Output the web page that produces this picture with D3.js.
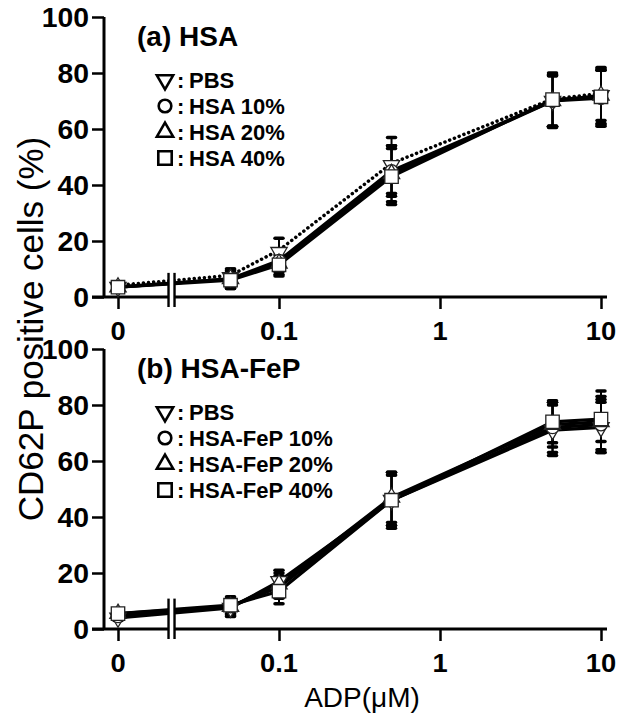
<!DOCTYPE html>
<html><head><meta charset="utf-8">
<script src="https://cdn.jsdelivr.net/npm/d3@7"></script>
<style>body{margin:0;background:#fff}svg{display:block}</style>
</head><body>
<script>
// ---- data ----
const xValues = [0, 0.05, 0.1, 0.5, 5, 10];
const xTickValues = [0, 0.1, 1, 10];
const xTickLabels = ["0", "0.1", "1", "10"];
const yTickValues = [0, 20, 40, 60, 80, 100];

const namesA = ["PBS", "HSA 10%", "HSA 20%", "HSA 40%"];
const pbsA   = [3.5, 7.0, 16.0, 47.0, 70.0, 72.0];
const hsa10A = [3.5, 6.5, 13.0, 45.0, 70.0, 71.0];
const hsa20A = [3.5, 6.5, 12.0, 44.0, 70.0, 72.0];
const hsa40A = [3.5, 6.0, 11.5, 43.0, 70.5, 71.5];
const pbsAErr   = [0.5, 3.0, 5.0, 10.0, 9.0, 10.0];
const hsa10AErr = [0.5, 3.5, 4.0, 9.0, 9.5, 10.0];
const hsa20AErr = [0.5, 3.0, 4.5, 10.0, 9.0, 9.0];
const hsa40AErr = [0.5, 3.0, 3.5, 10.0, 9.5, 10.0];

const namesB = ["PBS", "HSA-FeP 10%", "HSA-FeP 20%", "HSA-FeP 40%"];
const pbsB   = [4.0, 7.5, 17.0, 46.0, 71.0, 72.0];
const fep10B = [4.5, 8.0, 15.0, 46.0, 72.0, 73.0];
const fep20B = [5.5, 8.0, 16.0, 47.0, 73.0, 74.0];
const fep40B = [5.5, 8.5, 13.5, 46.0, 74.0, 75.0];
const pbsBErr   = [1.0, 3.0, 4.0, 9.0, 9.0, 9.0];
const fep10BErr = [1.0, 3.0, 4.0, 9.0, 9.0, 9.0];
const fep20BErr = [1.0, 3.0, 4.0, 9.0, 8.0, 11.0];
const fep40BErr = [1.5, 3.0, 4.5, 10.0, 7.5, 8.0];

const panels = [
  {title: "(a) HSA", names: namesA, values: [pbsA, hsa10A, hsa20A, hsa40A],
   errs: [pbsAErr, hsa10AErr, hsa20AErr, hsa40AErr], dotted: [true, false, false, false], top: 17},
  {title: "(b) HSA-FeP", names: namesB, values: [pbsB, fep10B, fep20B, fep40B],
   errs: [pbsBErr, fep10BErr, fep20BErr, fep40BErr], dotted: [false, false, false, false], top: 349}
];

// ---- layout ----
const W = 620, H = 713;
const font = "'Liberation Sans', Arial, sans-serif";
const svg = d3.select("body").append("svg").attr("width", W).attr("height", H);

const zeroStandIn = 0.01;   // where "0" sits on the log axis
const breakAt = 0.0215;     // axis break position
const x = d3.scaleLog().domain([0.01, 10]).range([118, 601]);
const px = v => x(v === 0 ? zeroStandIn : v);
const axisX = 104, plotH = 280;

const symbols = [
  {type: d3.symbolTriangle, rot: 180, size: 115},
  {type: d3.symbolCircle, rot: 0, size: 125},
  {type: d3.symbolTriangle, rot: 0, size: 115},
  {type: d3.symbolSquare, rot: 0, size: 180}
];

function stretchText(g, tx, ty, str, opts) {
  const t = g.append("text")
    .attr("transform", `translate(${tx},${ty}) scale(${opts.sx || 1},1)`)
    .attr("font-family", font)
    .attr("font-size", opts.size)
    .attr("font-weight", opts.weight || "normal")
    .attr("text-anchor", opts.anchor || "start")
    .attr("fill", "#000")
    .text(str);
  if (opts.stroke) t.attr("stroke", "#000").attr("stroke-width", opts.stroke);
  return t;
}

panels.forEach(p => {
  const y = d3.scaleLinear().domain([0, 100]).range([p.top + plotH, p.top]);
  const g = svg.append("g");
  const y0 = y(0);

  // y axis
  const yAxis = d3.axisLeft(y).tickValues(yTickValues).tickSize(12).tickFormat("");
  const ya = g.append("g").attr("transform", `translate(${axisX},0)`).call(yAxis);
  ya.select(".domain").attr("stroke", "#000").attr("stroke-width", 3).attr("d", `M0,${p.top}V${y0}`);
  ya.selectAll(".tick line").attr("stroke", "#000").attr("stroke-width", 2.5);
  yTickValues.forEach(v => {
    stretchText(g, 89, y(v) + 10, String(v), {size: 27, sx: 1.05, anchor: "end", weight: "bold"});
  });

  // x axis
  const xa = g.append("g").attr("transform", `translate(0,${y0})`)
    .call(d3.axisBottom(x).tickValues(xTickValues.map(v => v === 0 ? zeroStandIn : v)).tickSize(12).tickFormat(""));
  xa.select(".domain").attr("stroke", "#000").attr("stroke-width", 3).attr("d", `M92,0H607`);
  xa.selectAll(".tick line").attr("stroke", "#000").attr("stroke-width", 2.5);
  xTickValues.forEach((v, i) => {
    stretchText(g, px(v), y0 + 43, xTickLabels[i], {size: 26, sx: 1.05, anchor: "middle", weight: "bold"});
  });

  // lines
  const line = d3.line().x((d, i) => px(xValues[i])).y(d => y(d));
  p.values.forEach((vals, si) => {
    const path = g.append("path").datum(vals).attr("d", line)
      .attr("fill", "none").attr("stroke", "#000");
    if (p.dotted[si]) path.attr("stroke-width", 3.5).attr("stroke-dasharray", "0.1 5").attr("stroke-linecap", "round")
      .attr("transform", "translate(0,-2)");
    else path.attr("stroke-width", 3.2);
  });

  // break marks
  const bx = x(breakAt);
  const t = (Math.log10(breakAt) - Math.log10(zeroStandIn)) / (Math.log10(xValues[1]) - Math.log10(zeroStandIn));
  const vAtBreak = p.values[3][0] + t * (p.values[3][1] - p.values[3][0]);
  const by1 = y(vAtBreak) - 11, by2 = y0 + 10;
  g.append("rect").attr("x", bx - 2.5).attr("y", by1).attr("width", 5).attr("height", by2 - by1).attr("fill", "#fff");
  [bx - 3, bx + 3].forEach(xx => g.append("line").attr("x1", xx).attr("x2", xx).attr("y1", by1).attr("y2", by2)
    .attr("stroke", "#000").attr("stroke-width", 2.4));

  // error bars
  p.values.forEach((vals, si) => {
    vals.forEach((v, i) => {
      const e = p.errs[si][i];
      const xx = px(xValues[i]);
      g.append("line").attr("x1", xx).attr("x2", xx).attr("y1", y(v + e)).attr("y2", y(v - e))
        .attr("stroke", "#000").attr("stroke-width", 2);
      [v + e, v - e].forEach(c => g.append("line").attr("x1", xx - 4).attr("x2", xx + 4)
        .attr("y1", y(c)).attr("y2", y(c)).attr("stroke", "#000").attr("stroke-width", 3.5).attr("stroke-linecap", "round"));
    });
  });

  // markers
  p.values.forEach((vals, si) => {
    const s = symbols[si];
    vals.forEach((v, i) => {
      g.append("path").attr("d", d3.symbol().type(s.type).size(s.size)())
        .attr("transform", `translate(${px(xValues[i])},${y(v)}) rotate(${s.rot})`)
        .attr("fill", "#fff").attr("stroke", "#222").attr("stroke-width", 1.3);
    });
  });

  // title
  stretchText(g, 137, p.top + 29, p.title, {size: 28, sx: 1.0, weight: "bold"});

  // legend
  p.names.forEach((n, i) => {
    const cy = p.top + 63 + i * 26;
    const s = symbols[i];
    g.append("path").attr("d", d3.symbol().type(s.type).size(s.size * 1.0)())
      .attr("transform", `translate(165,${cy}) rotate(${s.rot})`)
      .attr("fill", "#fff").attr("stroke", "#000").attr("stroke-width", 2.6);
    stretchText(g, 177, cy + 8, ":", {size: 22, weight: "bold"});
    stretchText(g, 189, cy + 8, n, {size: 22, weight: "bold"});
  });
});

// axis titles
svg.append("text").attr("transform", "translate(43,329) rotate(-90)")
  .attr("font-family", font).attr("font-size", 35).attr("text-anchor", "middle").attr("fill", "#000")
  .text("CD62P positive cells (%)");
stretchText(svg, 362, 707, "ADP(μM)", {size: 28, anchor: "middle"});
</script>
</body></html>
